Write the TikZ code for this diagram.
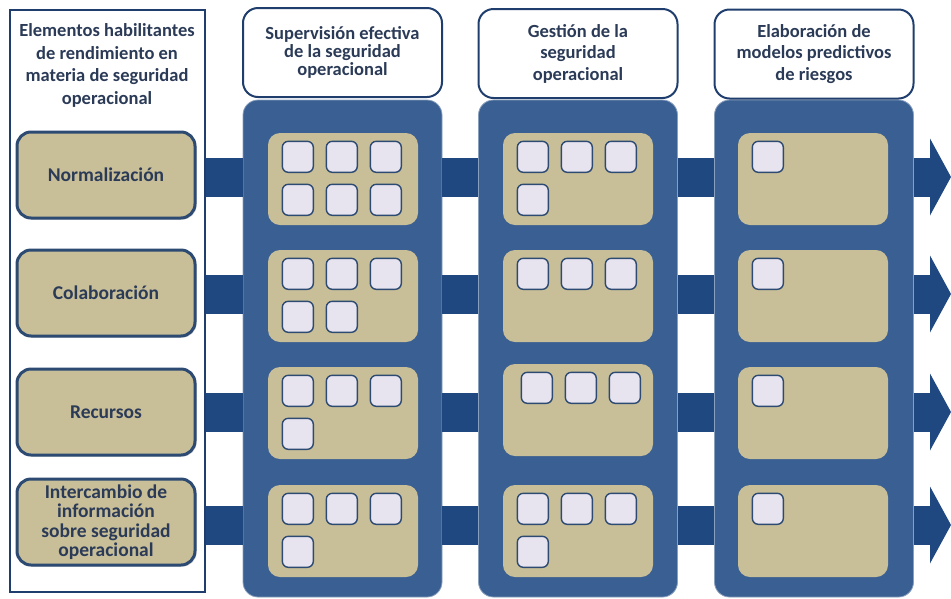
\documentclass[tikz,border=0pt]{standalone}
\usepackage{fontspec}
\setmainfont{Carlito}
\usetikzlibrary{calc,shadows}
\definecolor{colblue}{HTML}{3A5F92}
\definecolor{barblue}{HTML}{1F4780}
\definecolor{tan}{HTML}{C8BE98}
\definecolor{sqfill}{HTML}{E7E3EF}
\definecolor{edgeblue}{HTML}{2C4A72}
\definecolor{frameblue}{HTML}{1F3E6E}
\definecolor{txt}{HTML}{2B3B57}
\tikzset{
  frame/.style={draw=frameblue, line width=2.5pt, fill=white, minimum width=195pt, minimum height=582pt, inner sep=0pt},
  leftbox/.style={draw=edgeblue, line width=3pt, fill=tan, rounded corners=14pt, minimum width=178pt, minimum height=86pt, align=center, text=txt, font=\bfseries\fontsize{19.5}{19.5}\selectfont, inner sep=2pt, drop shadow={shadow xshift=1.5pt, shadow yshift=-1.5pt, opacity=0.35}},
  column/.style={fill=colblue, draw=colblue!60!white, line width=0.8pt, rounded corners=15pt, minimum width=199pt, minimum height=497pt, inner sep=0pt},
  header/.style={draw=frameblue, line width=2pt, fill=white, rounded corners=15pt, minimum width=199pt, minimum height=89pt, align=center, text=txt, font=\bfseries\fontsize{18.5}{18}\selectfont, inner sep=2pt},
  headerwide/.style={header, font=\bfseries\fontsize{18.5}{21.5}\selectfont},
  inner/.style={fill=tan, rounded corners=12pt, minimum width=150pt, minimum height=92pt, inner sep=0pt},
  sq/.style={draw=edgeblue, line width=1.4pt, fill=sqfill, rounded corners=6pt, minimum width=31pt, minimum height=31pt, inner sep=0pt},
  bar/.style={draw=barblue, line width=39pt},
  title/.style={align=center, text=txt, font=\bfseries\fontsize{18.5}{22.7}\selectfont, inner sep=0pt}
}
\newcommand\mysquares[3]{%
  \foreach \k in {1,...,#2}{%
    \pgfmathtruncatemacro\cc{mod(\k-1,3)}%
    \pgfmathtruncatemacro\rr{(\k-1)/3}%
    \node[sq] (#1-\k) at ($(#1.north west)+({#3+30+44*\cc},{24+43*\rr})$) {};
  }%
}
\begin{document}
\begin{tikzpicture}[x=1pt,y=-1pt]
\useasboundingbox (0,0) rectangle (951,598);
% arrow tip coordinates
\coordinate (A1) at (930,177);
\coordinate (A2) at (930,294);
\coordinate (A3) at (930,412);
\coordinate (A4) at (930,525);
% left frame
\node[frame] (frame) at (107.5,301) {};
\node[title] (ftitle) at (107,65.5) {Elementos habilitantes\\de rendimiento en\\materia de seguridad\\operacional};
% columns
\node[column] (C1) at (342.5,348.5) {};
\node[column] (C2) at (578,348.5) {};
\node[column] (C3) at (814,348.5) {};
\foreach \r/\y in {1/177,2/294,3/412,4/525}{
  \coordinate (Y\r) at (0,\y);
}
% connector bars between elements
\draw[bar] (frame.east |- Y1) -- (C1.west |- Y1);
\draw[bar] (frame.east |- Y2) -- (C1.west |- Y2);
\draw[bar] (frame.east |- Y3) -- (C1.west |- Y3);
\draw[bar] (frame.east |- Y4) -- (C1.west |- Y4);
\foreach \r in {1,2,3,4}{
  \draw[bar] (C1.east |- Y\r) -- (C2.west |- Y\r);
  \draw[bar] (C2.east |- Y\r) -- (C3.west |- Y\r);
  \draw[bar] (C3.east |- Y\r) -- (A\r);
  \fill[barblue] ($(A\r)+(0,-38.5)$) -- ($(A\r)+(21,0)$) -- ($(A\r)+(0,38.5)$) -- cycle;
}
% left boxes
\node[leftbox] (L1) at (106,175) {Normalización};
\node[leftbox] (L2) at (106,293) {Colaboración};
\node[leftbox] (L3) at (106,412) {Recursos};
\node[leftbox] (L4) at (106,522) {Intercambio de\\información\\sobre seguridad\\operacional};
% headers
\node[header] (H1) at (342.5,52.5) {Supervisión efectiva\\de la seguridad\\operacional};
\node[headerwide] (H2) at (578,53.5) {Gestión de la\\seguridad\\operacional};
\node[headerwide] (H3) at (814,54) {Elaboración de\\modelos predictivos\\de riesgos};
% inner boxes
\node[inner] (I11) at (343,179) {};
\node[inner] (I12) at (343,296) {};
\node[inner] (I13) at (343,413) {};
\node[inner] (I14) at (343,531) {};
\node[inner] (I21) at (578,179) {};
\node[inner] (I22) at (578,296) {};
\node[inner] (I23) at (578,410) {};
\node[inner] (I24) at (578,531) {};
\node[inner] (I31) at (813,179) {};
\node[inner] (I32) at (813,296) {};
\node[inner] (I33) at (813,413) {};
\node[inner] (I34) at (813,531) {};
% squares
\mysquares{I11}{6}{0}
\mysquares{I12}{5}{0}
\mysquares{I13}{4}{0}
\mysquares{I14}{4}{0}
\mysquares{I21}{4}{0}
\mysquares{I22}{3}{0}
\mysquares{I23}{3}{4}
\mysquares{I24}{4}{0}
\mysquares{I31}{1}{0}
\mysquares{I32}{1}{0}
\mysquares{I33}{1}{0}
\mysquares{I34}{1}{0}
\end{tikzpicture}
\end{document}
